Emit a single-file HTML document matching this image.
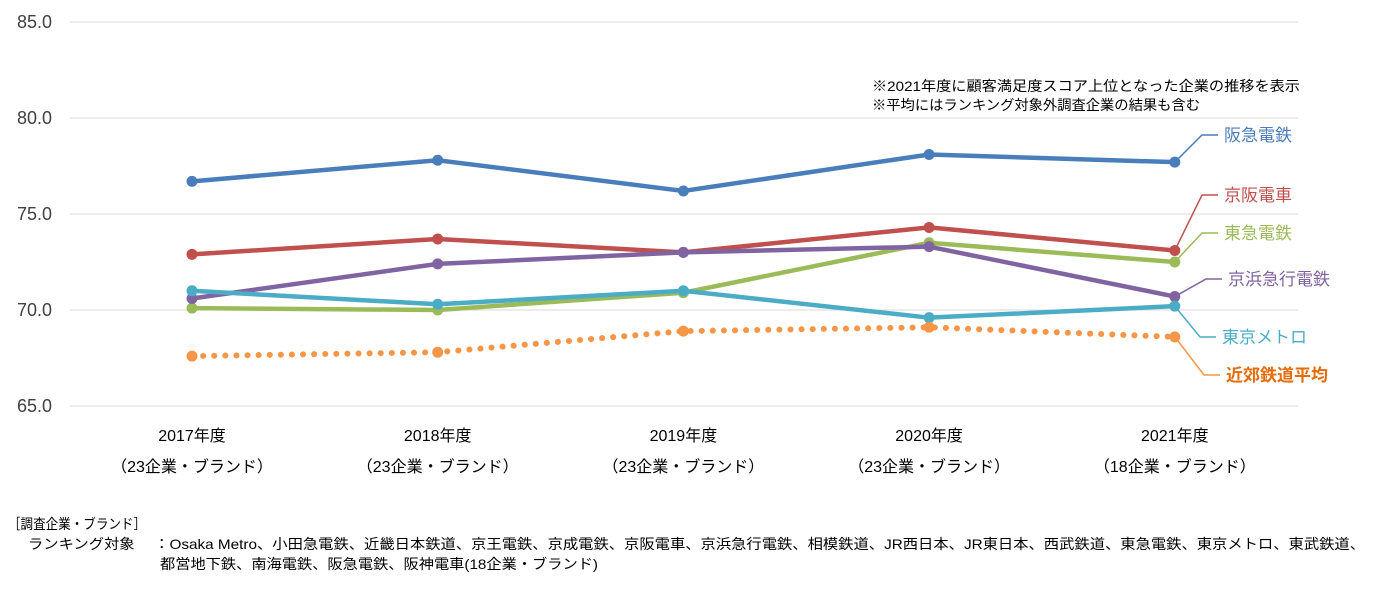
<!DOCTYPE html>
<html><head><meta charset="utf-8"><style>
body{margin:0;background:#fff;width:1390px;height:590px;overflow:hidden;font-family:"Liberation Sans","Noto Sans CJK JP",sans-serif}
svg text{font-family:"Liberation Sans","Noto Sans CJK JP",sans-serif}
</style></head><body>
<svg id="chart" width="1390" height="590" xmlns="http://www.w3.org/2000/svg">
<g id="grid"></g><g id="marks"></g><g id="labels"></g>
<text x="872" y="91" font-size="14" textLength="428" lengthAdjust="spacingAndGlyphs" fill="#000">※2021年度に顧客満足度スコア上位となった企業の推移を表示</text>
<text x="872" y="110" font-size="14" textLength="328" lengthAdjust="spacingAndGlyphs" fill="#000">※平均にはランキング対象外調査企業の結果も含む</text>
<text x="8" y="529" font-size="14" textLength="138" lengthAdjust="spacingAndGlyphs">［調査企業・ブランド］</text>
<text x="28" y="549" font-size="14" textLength="1337" lengthAdjust="spacingAndGlyphs">ランキング対象　 ：Osaka Metro、小田急電鉄、近畿日本鉄道、京王電鉄、京成電鉄、京阪電車、京浜急行電鉄、相模鉄道、JR西日本、JR東日本、西武鉄道、東急電鉄、東京メトロ、東武鉄道、</text>
<text x="160" y="569" font-size="14" textLength="438" lengthAdjust="spacingAndGlyphs">都営地下鉄、南海電鉄、阪急電鉄、阪神電車(18企業・ブランド)</text>
</svg>
<script>
const categories=["2017年度","2018年度","2019年度","2020年度","2021年度"];
const subLabels=["（23企業・ブランド）","（23企業・ブランド）","（23企業・ブランド）","（23企業・ブランド）","（18企業・ブランド）"];
const yTicks=[65,70,75,80,85];
const seriesNames=["阪急電鉄","京阪電車","東急電鉄","京浜急行電鉄","東京メトロ","近郊鉄道平均"];
const hankyu=[76.7,77.8,76.2,78.1,77.7];
const keihan=[72.9,73.7,73.0,74.3,73.1];
const tokyu=[70.1,70.0,70.9,73.5,72.5];
const keikyu=[70.6,72.4,73.0,73.3,70.7];
const metro=[71.0,70.3,71.0,69.6,70.2];
const average=[67.6,67.8,68.9,69.1,68.6];
const colors=["#4a7ebb","#c0504d","#9bbb59","#8064a2","#4bacc6","#f79646"];
const labelColors=["#4a7ebb","#c0504d","#9bbb59","#8064a2","#4bacc6","#e46c0a"];
const labelY=[141,201,239,285,343,381];
const labelX=[1224,1224,1224,1228,1222,1226];
const NS="http://www.w3.org/2000/svg";
const x=i=>192+i*245.7;
const y=v=>406-(v-65)*19.2;
function mk(t,a,p){const e=document.createElementNS(NS,t);for(const k in a)e.setAttribute(k,a[k]);p.appendChild(e);return e;}
const grid=document.getElementById('grid'),marks=document.getElementById('marks'),labels=document.getElementById('labels');
yTicks.forEach(v=>{
 const l=mk('line',{x1:70,x2:1298,y1:y(v),y2:y(v),stroke:'#d9d9d9','stroke-width':1},grid);
 
 
 const t=mk('text',{x:52,y:y(v)+6,'font-size':18,'text-anchor':'end',fill:'#404040'},grid);
 t.textContent=v.toFixed(1);
 
 
});
categories.forEach((c,i)=>{
 const t=mk('text',{x:x(i),y:441,'font-size':16,'text-anchor':'middle',fill:'#000'},grid);
 t.textContent=c;
 
 
 const s=mk('text',{x:x(i),y:472,'font-size':16,'text-anchor':'middle',fill:'#000'},grid);
 s.textContent=subLabels[i];
 
 
});
const all=[hankyu,keihan,tokyu,keikyu,metro,average];
all.forEach((d,si)=>{
 const pts=d.map((v,i)=>x(i)+','+y(v)).join(' ');
 const dotted=si===5;
 const pl=mk('polyline',{points:pts,fill:'none',stroke:colors[si],'stroke-width':dotted?6:4.5,'stroke-linecap':'round','stroke-dasharray':dotted?'0.1 11':'none'},marks);
 
 
 d.forEach((v,i)=>{
  const c=mk('circle',{cx:x(i),cy:y(v),r:5.5,fill:colors[si]},marks);
  
  
 });
 const lx=x(4),ly=y(d[4]);
 const ld=mk('polyline',{points:`${lx},${ly} ${labelX[si]-22},${labelY[si]-6} ${labelX[si]-6},${labelY[si]-6}`,fill:'none',stroke:colors[si],'stroke-width':1.5},labels);
 
 
 const t=mk('text',{x:labelX[si],y:labelY[si],'font-size':17,fill:labelColors[si],'font-weight':si===5?'bold':'normal'},labels);
 t.textContent=seriesNames[si];
 
 
});
</script>
</body></html>
